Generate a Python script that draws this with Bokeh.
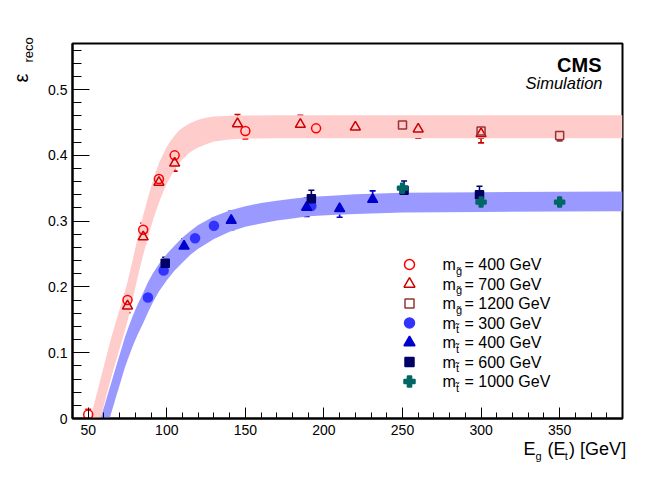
import math
from bokeh.plotting import figure
from bokeh.models import Range1d, FixedTicker, Label, Whisker, TeeHead, ColumnDataSource
from bokeh.embed import file_html
from bokeh.resources import INLINE

# ---------------- data ----------------
# fitted efficiency bands: centre line and half width
red_band_x = [48, 50, 52, 54.6, 57, 60, 63, 65.5, 68, 70, 72.5, 75, 77.5, 80, 82.5, 85, 87.5, 90, 92.5, 95,
              97.5, 100, 102.5, 105, 107.5, 110, 115, 120, 125, 130, 140, 150, 170, 200, 250, 300, 350, 390]
red_band_y = [-0.058, -0.041, -0.023, 0.0, 0.022, 0.05, 0.078, 0.1, 0.12, 0.136, 0.156, 0.178, 0.203, 0.229,
              0.255, 0.279, 0.301, 0.322, 0.341, 0.358, 0.372, 0.385, 0.395, 0.404, 0.412, 0.418, 0.427, 0.433,
              0.437, 0.44, 0.442, 0.443, 0.4435, 0.4435, 0.4435, 0.4435, 0.4435, 0.4435]
red_band_hw = [0.03, 0.03, 0.03, 0.03, 0.03, 0.03, 0.03, 0.03, 0.03, 0.03, 0.03, 0.03, 0.03, 0.03,
               0.03, 0.03, 0.03, 0.03, 0.03, 0.03, 0.029, 0.028, 0.027, 0.026, 0.025, 0.024, 0.022, 0.021,
               0.02, 0.019, 0.018, 0.0175, 0.0175, 0.0175, 0.0175, 0.0175, 0.0175, 0.0175]
blue_band_x = [57, 59, 60.8, 63, 65, 67.5, 70, 73.3, 75.5, 78.5, 81, 85, 88, 91, 95, 100, 105, 110, 115, 120,
               130, 140, 150, 160, 170, 180, 190, 205, 220, 250, 300, 350, 390]
blue_band_y = [-0.03, -0.014, 0.0, 0.018, 0.034, 0.054, 0.074, 0.1, 0.115, 0.134, 0.148, 0.168, 0.184, 0.198,
               0.214, 0.23, 0.244, 0.256, 0.267, 0.276, 0.29, 0.3, 0.307, 0.312, 0.316, 0.319, 0.322, 0.324,
               0.326, 0.328, 0.329, 0.3295, 0.33]
blue_band_hw = [0.023, 0.023, 0.023, 0.023, 0.023, 0.023, 0.023, 0.023, 0.023, 0.023, 0.023, 0.023, 0.023,
                0.022, 0.021, 0.02, 0.019, 0.019, 0.018, 0.018, 0.017, 0.016, 0.0155, 0.0155, 0.015, 0.015,
                0.0145, 0.0145, 0.015, 0.015, 0.015, 0.015, 0.015]

# gluino 400 GeV (open circles)
g400_x = [50, 75, 85, 95, 105, 150, 195]
g400_y = [0.006, 0.18, 0.287, 0.364, 0.400, 0.437, 0.441]
g400_e = [0.008, 0.009, 0.010, 0.011, 0.011, 0.012, 0.012]
# gluino 700 GeV (open triangles)
g700_x = [75, 85, 95, 105, 145, 185, 220, 260, 300]
g700_y = [0.171, 0.276, 0.359, 0.388, 0.448, 0.447, 0.443, 0.440, 0.433]
g700_e = [0.010, 0.010, 0.011, 0.012, 0.014, 0.014, 0.014, 0.014, 0.014]
# gluino 1200 GeV (open squares)
g1200_x = [250, 300, 350]
g1200_y = [0.446, 0.437, 0.430]
g1200_e = [0.009, 0.011, 0.008]
# stop 300 GeV (filled circles)
t300_x = [88, 98, 118, 130, 192]
t300_y = [0.184, 0.225, 0.274, 0.293, 0.323]
t300_e = [0.009, 0.010, 0.010, 0.011, 0.011]
# stop 400 GeV (filled triangles)
t400_x = [111, 141, 189, 210, 231]
t400_y = [0.262, 0.301, 0.321, 0.319, 0.333]
t400_e = [0.011, 0.014, 0.014, 0.013, 0.013]
# stop 600 GeV (filled squares)
t600_x = [99, 192, 251, 299]
t600_y = [0.236, 0.334, 0.347, 0.340]
t600_e = [0.009, 0.013, 0.014, 0.013]
# stop 1000 GeV (filled crosses)
t1000_x = [250, 300, 350]
t1000_y = [0.350, 0.329, 0.329]
t1000_e = [0.004, 0.004, 0.004]

legend_particle = ["g\u0303", "g\u0303", "g\u0303", "t\u0303", "t\u0303", "t\u0303", "t\u0303"]
legend_mass = ["400", "700", "1200", "300", "400", "600", "1000"]

x_ticks = [50, 100, 150, 200, 250, 300, 350]
y_ticks = [0, 0.1, 0.2, 0.3, 0.4, 0.5]
y_tick_labels = ["0", "0.1", "0.2", "0.3", "0.4", "0.5"]

# ---------------- layout ----------------
X0, X1, Y0, Y1 = 40, 390, 0.0, 0.57
FL, FT, FW, FH = 72, 43, 550, 375
FONT = "Liberation Sans"
NB = "\u00a0"


def dx(px):  # picture pixel -> data x
    return X0 + (px - FL) * (X1 - X0) / FW


def dy(py):  # picture pixel -> data y
    return Y1 - (py - FT) * (Y1 - Y0) / FH


p = figure(frame_width=FW, frame_height=FH,
           x_range=Range1d(X0, X1), y_range=Range1d(Y0, Y1),
           output_backend="svg", toolbar_location=None,
           min_border_left=FL, min_border_top=FT, min_border_right=27, min_border_bottom=69,
           background_fill_color="white", border_fill_color="white")
p.grid.visible = False
p.outline_line_color = "black"
p.outline_line_width = 2

p.xaxis.ticker = FixedTicker(ticks=x_ticks, minor_ticks=list(range(40, 391, 10)))
p.yaxis.ticker = FixedTicker(ticks=y_ticks, minor_ticks=[i * 0.02 for i in range(0, 29)])
p.yaxis.major_label_overrides = {t: l for t, l in zip(y_ticks, y_tick_labels)}
for ax in (p.xaxis[0], p.yaxis[0]):
    ax.axis_line_width = 2
    ax.axis_line_color = "black"
    ax.major_tick_out = 0
    ax.minor_tick_out = 0
    ax.major_tick_line_color = "black"
    ax.minor_tick_line_color = "black"
    ax.major_tick_line_width = 1
    ax.minor_tick_line_width = 1
    ax.major_label_text_font = FONT
    ax.major_label_text_font_size = "14px"
    ax.major_label_text_color = "black"
p.xaxis.major_tick_in = 11
p.xaxis.minor_tick_in = 6
p.xaxis.major_label_standoff = 6
p.yaxis.major_tick_in = 17
p.yaxis.minor_tick_in = 9
p.yaxis.major_label_standoff = 5

# bands
p.varea(x=red_band_x,
        y1=[c - h for c, h in zip(red_band_y, red_band_hw)],
        y2=[c + h for c, h in zip(red_band_y, red_band_hw)], fill_color="#ffcccc")
p.varea(x=blue_band_x,
        y1=[c - h for c, h in zip(blue_band_y, blue_band_hw)],
        y2=[c + h for c, h in zip(blue_band_y, blue_band_hw)], fill_color="#9999ff")

series = [
    (g400_x, g400_y, g400_e, "circle", "#ff0000", False, 9),
    (g700_x, g700_y, g700_e, "triangle", "#cc0000", False, 10),
    (g1200_x, g1200_y, g1200_e, "square", "#993333", False, 8),
    (t300_x, t300_y, t300_e, "circle", "#3333ff", True, 9),
    (t400_x, t400_y, t400_e, "triangle", "#0000cc", True, 10),
    (t600_x, t600_y, t600_e, "square", "#000066", True, 8),
    (t1000_x, t1000_y, t1000_e, "plus", "#006666", True, 10),
]

ypp = (Y1 - Y0) / FH  # data per pixel
for xs, ys, es, mk, col, filled, sz in series:
    gap = (sz / 2) * ypp
    ux, ulo, uhi, lx, llo, lhi = [], [], [], [], [], []
    for x, y, e in zip(xs, ys, es):
        if e > gap:
            ux.append(x); ulo.append(y + gap); uhi.append(y + e)
            lx.append(x); llo.append(y - e); lhi.append(y - gap)
    if ux:
        p.add_layout(Whisker(source=ColumnDataSource(dict(x=ux, lo=ulo, hi=uhi)), base="x", lower="lo", upper="hi",
                             dimension="height", line_color=col, line_width=1.6,
                             upper_head=TeeHead(size=6, line_color=col, line_width=1.6), lower_head=None))
        p.add_layout(Whisker(source=ColumnDataSource(dict(x=lx, lo=llo, hi=lhi)), base="x", lower="lo", upper="hi",
                             dimension="height", line_color=col, line_width=1.6,
                             lower_head=TeeHead(size=6, line_color=col, line_width=1.6), upper_head=None))
    p.scatter(xs, ys, marker=mk, size=sz, line_color=col, line_width=1.5,
              fill_color=col if filled else None)

# legend
lx_px, row0, drow = 409, 264, 19.5
for i, (xs, ys, es, mk, col, filled, sz) in enumerate(series):
    py = row0 + drow * i
    p.scatter([dx(lx_px)], [dy(py)], marker=mk, size=sz + 1, line_color=col, line_width=1.5,
              fill_color=col if filled else None)
    p.add_layout(Label(x=dx(442), y=dy(py), text="m", text_font=FONT, text_font_size="16px",
                       text_baseline="middle", text_align="left", text_color="black"))
    p.add_layout(Label(x=dx(455.5), y=dy(py + 6), text=legend_particle[i], text_font=FONT, text_font_size="11px",
                       text_baseline="middle", text_align="left", text_color="black"))
    p.add_layout(Label(x=dx(464), y=dy(py), text="=" + NB + legend_mass[i] + NB + "GeV", text_font=FONT,
                       text_font_size="16px", text_baseline="middle", text_align="left", text_color="black"))

# CMS / Simulation
p.add_layout(Label(x=dx(601), y=dy(64.5), text="CMS", text_font=FONT, text_font_size="20px",
                   text_font_style="bold", text_align="right", text_baseline="middle", text_color="black"))
p.add_layout(Label(x=dx(602), y=dy(82), text="Simulation", text_font=FONT, text_font_size="16.5px",
                   text_font_style="italic", text_align="right", text_baseline="middle", text_color="black"))

# x-axis title  E_g (E_t) [GeV]  (placed in the side panel so it is not clipped)
p.add_layout(Label(x=dx(523), y=dy(448.5), text="E\u2004\u2004(E\u2009)" + NB + "[GeV]", text_font=FONT,
                   text_font_size="18px", text_baseline="middle", text_align="left", text_color="black"),
             "below")
p.add_layout(Label(x=dx(535), y=dy(455), text="g" + NB * 7 + "\u2006t", text_font=FONT,
                   text_font_size="11px", text_baseline="middle", text_align="left", text_color="black"),
             "below")

# y-axis title  epsilon_reco (rotated)
p.add_layout(Label(x=dx(20), y=dy(82), text="\u03b5", text_font=FONT, text_font_size="20px",
                   angle=math.pi / 2, text_baseline="middle", text_align="left", text_color="black"),
             "left")
p.add_layout(Label(x=dx(27.5), y=dy(62), text="reco", text_font=FONT, text_font_size="13px",
                   angle=math.pi / 2, text_baseline="middle", text_align="left", text_color="black"),
             "left")

open("out.html", "w").write(file_html(p, INLINE))
